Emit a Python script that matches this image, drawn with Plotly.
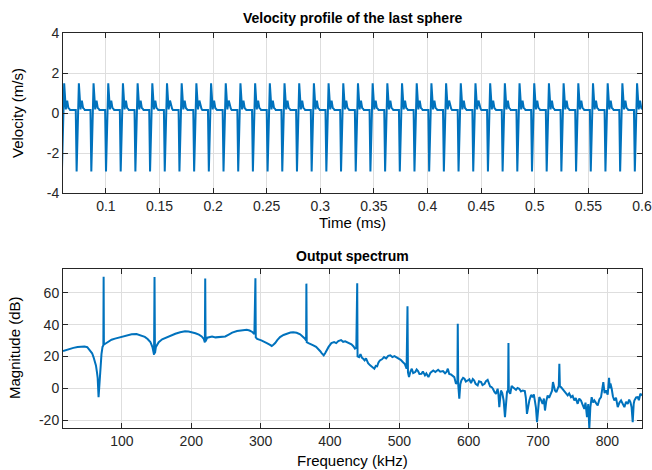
import plotly.graph_objects as go

# ---------------- Data: velocity profile ----------------
# one period of the waveform (offset from the negative spike, ms) and its values (m/s)
period_offsets_ms = [-0.0008, 0.0, 0.0021, 0.0036, 0.0049, 0.0060, 0.0068, 0.0076]
period_values = [0.15, -2.92, 1.48, 0.18, 0.62, 0.25, 0.22, 0.15]
first_spike_ms = 0.0590
period_ms = 0.0137
n_periods = 40

# ---------------- Data: output spectrum ----------------
freq_khz = [
    15, 20, 25, 30, 36, 42, 46, 50, 54, 57, 59, 61, 62.5, 64, 65, 66.3, 67.3, 68.3, 69.5, 70.5,
    72, 73.2, 73.6, 74.0, 76, 80, 85, 90, 95, 100, 107, 114, 121, 128, 133, 137, 141, 144, 146.3, 147.0,
    147.6, 149, 153, 158, 163, 170, 177, 184, 191, 196, 201, 206, 211, 215, 218, 219.6, 220.1, 220.6, 223, 227,
    230, 235, 240, 245, 249, 254, 259, 266, 273, 280, 284, 288, 291, 292.5, 293.0, 295, 301, 305, 309, 313,
    316, 318, 321, 324, 328, 333, 338, 343, 347, 352, 357, 361, 364, 365.6, 366.0, 366.5, 369, 372, 376, 380,
    383, 386, 388, 391, 393, 395, 398, 402, 406, 409, 412, 416, 419, 422, 426, 429, 431, 434, 436, 438,
    439.3, 439.8, 442, 444, 446, 448, 450, 452, 455, 458, 461, 464, 466, 468, 470, 472, 475, 478, 481, 484,
    487, 490, 493, 496, 499, 502, 505, 508, 510.5, 511.8, 512.5, 514, 516, 518, 520, 523, 525, 527, 529, 532,
    534, 537, 539, 542, 545, 549, 552, 556, 559, 563, 566, 568, 570, 572, 574.5, 577, 579.3, 581.7, 583.8, 584.3,
    585, 586.5, 588, 589.5, 592, 594, 596, 598.6, 601, 603.4, 606, 608, 610, 613, 615, 618, 620, 623, 625, 627.4,
    629, 631, 633, 635, 637, 639.4, 641.8, 643, 644.2, 645.5, 646.6, 648.5, 650.5, 652.4, 654, 655.3, 656.9, 657.4, 657.9, 660,
    662, 663.5, 666, 668.3, 670.5, 673, 675.5, 678, 681, 682.5, 684.1, 686, 687.5, 690, 692.3, 694, 695.7, 697, 698.6, 700,
    701.9, 704, 706.7, 708.5, 710.1, 712, 713.9, 716, 718.8, 720.3, 721.6, 723, 724.5, 726.5, 728.4, 730, 730.8, 731.6, 733.2, 735.5,
    738, 740, 742.8, 745, 747.6, 750, 752.4, 754.5, 757.2, 759.5, 762, 764, 766.8, 768.5, 770.7, 772.5, 774, 775.5, 777.4, 779.5,
    781.3, 784, 786.1, 788.5, 790.9, 792.5, 794.2, 796, 798.1, 800.5, 802.5, 803.5, 804.5, 806.3, 808, 810.1, 812.5, 815, 817.5, 819.8,
    822, 824.6, 827, 829.4, 831.5, 833.3, 835, 836.6, 838, 839, 841.5, 843.8, 845.5, 847.6, 850,
]
magnitude_db = [
    23.4, 24.2, 25.0, 25.4, 25.9, 26.3, 26.2, 25.8, 24.0, 22.0, 19.6, 17.0, 14.4, 10.0, 6.5, -5.6, 3.0, 10.0, 17.0, 21.5,
    26.0, 27.0, 70.2, 27.5, 28.0, 29.2, 30.5, 31.2, 31.8, 32.2, 33.2, 33.9, 34.1, 33.3, 32.3, 31.0, 29.1, 25.9, 21.0, 70.0,
    22.0, 26.0, 29.0, 30.8, 31.8, 33.2, 34.3, 35.2, 35.8, 35.7, 35.2, 34.6, 33.7, 32.6, 31.0, 28.8, 69.0, 29.5, 31.8, 32.1,
    32.6, 32.0, 32.2, 32.0, 32.6, 33.8, 35.0, 36.0, 36.6, 36.8, 36.3, 35.4, 34.0, 69.2, 32.0, 31.0, 30.1, 29.5, 28.4, 27.4,
    26.6, 27.2, 28.4, 30.3, 32.2, 33.5, 34.3, 35.0, 35.2, 34.9, 33.9, 32.5, 31.2, 30.0, 65.8, 29.0, 28.4, 28.0, 27.0, 26.0,
    24.9, 23.3, 22.1, 20.7, 22.0, 23.8, 26.0, 28.4, 29.0, 28.4, 29.7, 30.3, 29.2, 29.5, 28.8, 28.0, 27.6, 26.3, 24.9, 25.5,
    66.0, 20.0, 19.6, 21.5, 19.2, 18.5, 17.5, 18.8, 15.8, 14.4, 13.5, 12.3, 14.0, 13.8, 16.2, 17.5, 18.2, 19.6, 18.8, 20.4,
    20.7, 19.6, 20.2, 19.5, 18.6, 17.9, 16.5, 15.2, 12.3, 51.6, 10.0, 7.0, 10.5, 12.3, 9.5, 10.2, 11.8, 10.8, 9.0, 9.1,
    10.6, 8.1, 9.3, 7.0, 9.8, 11.2, 10.2, 11.6, 10.4, 10.8, 9.4, 10.2, 12.3, 9.0, 8.7, 7.6, 7.0, 2.8, 4.0, 40.6,
    2.0, -6.6, 2.5, 4.9, 6.5, 6.0, 4.2, 4.9, 5.6, 3.2, 5.8, 4.9, 2.8, 1.8, 4.4, 3.9, 2.0, 2.8, 4.5, 5.3,
    3.0, 1.1, 0.8, -0.3, -2.2, -3.5, -0.3, -4.0, -11.9, -5.0, -1.4, -3.0, -7.7, -18.2, -6.0, -2.4, -1.0, 28.4, -2.0, -3.5,
    1.5, 0.7, -0.5, -1.0, 0.2, -0.3, -2.0, -1.4, -1.8, -6.0, -16.1, -10.0, -7.7, -4.2, -5.6, -3.8, -8.7, -12.0, -21.3, -12.0,
    -5.6, -7.0, -9.8, -6.5, -14.0, -8.0, -4.5, -6.0, -3.5, -1.5, 3.9, 0.5, -1.4, -2.5, -0.3, 1.5, 15.4, 1.0, 0.7, -0.5,
    -1.4, -2.8, -4.5, -3.2, -5.6, -4.8, -7.7, -6.2, -9.8, -6.5, -7.7, -10.0, -13.0, -9.0, -18.2, -10.0, -25.5, -12.0, -5.6, -9.0,
    -7.7, -9.5, -10.8, -7.0, -5.6, -1.0, 3.9, -3.0, -1.4, -4.0, 6.6, 0.0, 3.0, -0.3, -5.0, -7.7, -6.0, -11.9, -9.0, -7.7,
    -9.8, -11.9, -8.5, -9.8, -7.2, -8.7, -12.0, -21.3, -10.0, -7.7, -5.8, -5.6, -7.5, -3.5, -4.5,
]

# tick labels
time_ticks = [0.1, 0.15, 0.2, 0.25, 0.3, 0.35, 0.4, 0.45, 0.5, 0.55, 0.6]
time_tick_text = ["0.1", "0.15", "0.2", "0.25", "0.3", "0.35", "0.4", "0.45", "0.5", "0.55", "0.6"]
vel_ticks = [-4, -2, 0, 2, 4]
vel_tick_text = ["-4", "-2", "0", "2", "4"]
freq_ticks = [100, 200, 300, 400, 500, 600, 700, 800]
freq_tick_text = ["100", "200", "300", "400", "500", "600", "700", "800"]
mag_ticks = [-20, 0, 20, 40, 60]
mag_tick_text = ["-20", "0", "20", "40", "60"]

# ---------------- Build velocity series from the read period ----------------
t_ms, vel = [], []
for k in range(n_periods):
    base = first_spike_ms + k * period_ms
    for off, val in zip(period_offsets_ms, period_values):
        t_ms.append(base + off)
        vel.append(val)

BLUE = "#0072BD"
FONT = "Liberation Sans, Arial, Helvetica, sans-serif"
AX = "#262626"

fig = go.Figure()
fig.add_trace(go.Scatter(x=t_ms, y=vel, mode="lines", line=dict(color=BLUE, width=2),
                         xaxis="x", yaxis="y", showlegend=False, hoverinfo="skip"))
fig.add_trace(go.Scatter(x=freq_khz, y=magnitude_db, mode="lines", line=dict(color=BLUE, width=2),
                         xaxis="x2", yaxis="y2", showlegend=False, hoverinfo="skip"))

common = dict(showline=True, linecolor=AX, linewidth=1, mirror="ticks", ticks="inside",
              ticklen=5, tickcolor=AX, tickwidth=1, showgrid=True, gridcolor="#dedede",
              gridwidth=1, zeroline=False, automargin=False,
              tickfont=dict(family=FONT, size=14, color=AX))

W, H = 652, 470
ml, mr, mt, mb = 63, 10, 33, 42
ph = H - mt - mb
pw = W - ml - mr


def py(p):
    return (H - mb - p) / ph


def px(p):
    return (p - ml) / pw


fig.update_layout(
    width=W, height=H,
    margin=dict(l=ml, r=mr, t=mt, b=mb, autoexpand=False),
    paper_bgcolor="white", plot_bgcolor="white",
    font=dict(family=FONT, color=AX),
    xaxis=dict(domain=[0, 1], range=[0.06, 0.6], anchor="y", tickvals=time_ticks,
               ticktext=time_tick_text, **common),
    yaxis=dict(domain=[py(193), 1], range=[-4, 4], anchor="x", tickvals=vel_ticks,
               ticktext=vel_tick_text, **common),
    xaxis2=dict(domain=[0, 1], range=[15, 850], anchor="y2", tickvals=freq_ticks,
                ticktext=freq_tick_text, **common),
    yaxis2=dict(domain=[0, py(269)], range=[-25, 75], anchor="x2", tickvals=mag_ticks,
                ticktext=mag_tick_text, **common),
)

ann = [
    dict(text="<b>Velocity profile of the last sphere</b>", x=0.5, y=py(18), size=14, angle=0),
    dict(text="Time (ms)", x=0.5, y=py(222), size=15, angle=0),
    dict(text="<b>Output spectrum</b>", x=0.5, y=py(256), size=14, angle=0),
    dict(text="Frequency (kHz)", x=0.5, y=py(460), size=15, angle=0),
    dict(text="Velocity (m/s)", x=px(18), y=py(113), size=15, angle=-90),
    dict(text="Magnitude (dB)", x=px(14), y=py(348), size=15, angle=-90),
]
for a in ann:
    fig.add_annotation(text=a["text"], x=a["x"], y=a["y"], xref="paper", yref="paper",
                       xanchor="center", yanchor="middle", showarrow=False, textangle=a["angle"],
                       font=dict(family=FONT, size=a["size"], color="#000000"))

fig.write_html("out.html", config={"displayModeBar": False},
               post_script="document.body.style.margin='0';document.body.style.padding='0';")
